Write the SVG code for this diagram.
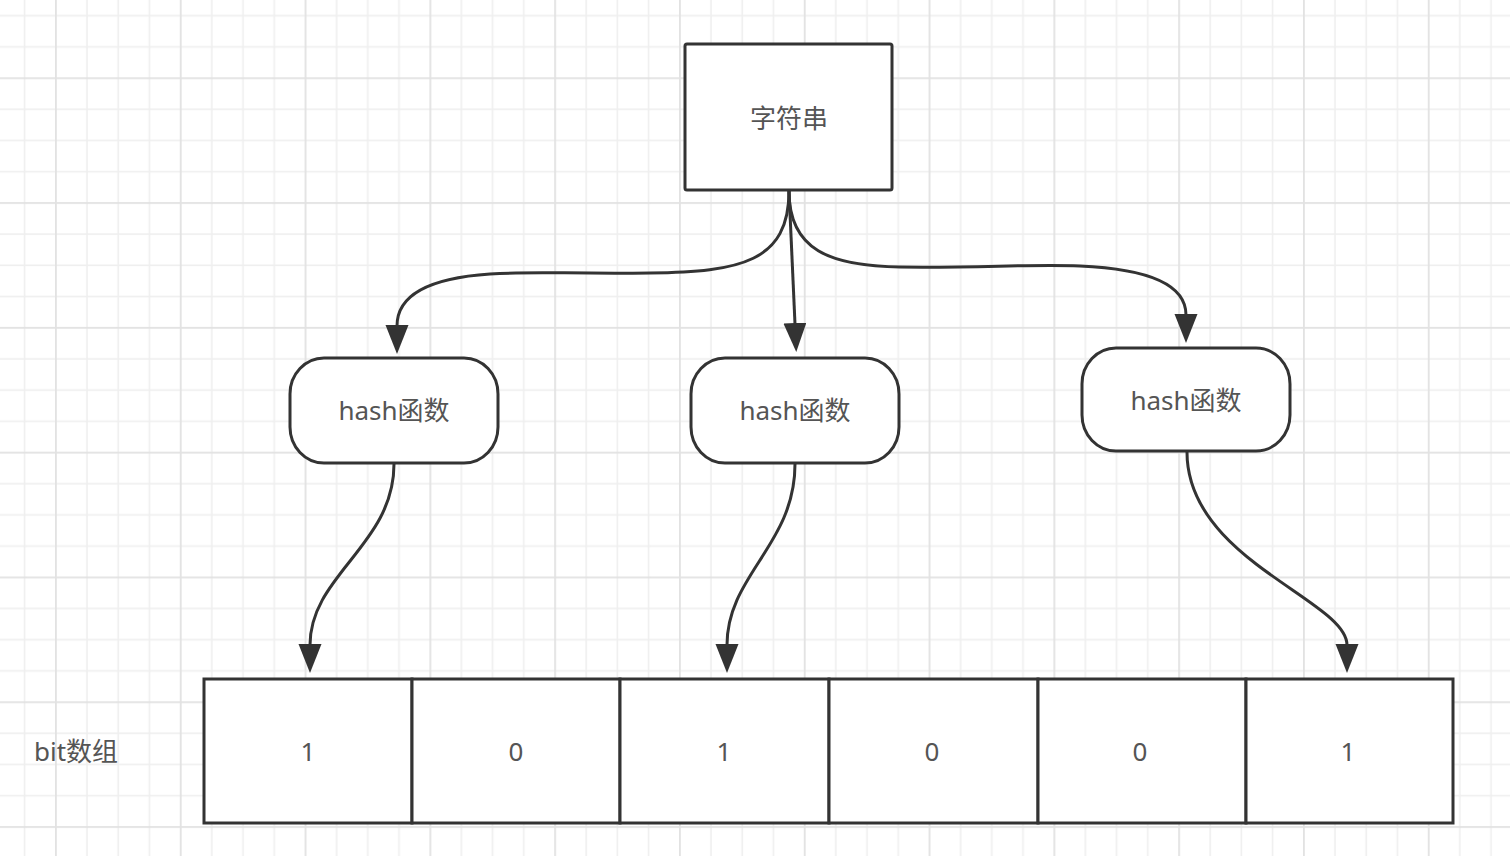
<svg xmlns="http://www.w3.org/2000/svg" width="1510" height="856" viewBox="0 0 1510 856">
  <defs>
    <pattern id="grid" x="55" y="77.3" width="124.8" height="124.8" patternUnits="userSpaceOnUse">
      <rect x="0" y="0" width="124.8" height="124.8" fill="#ffffff"/>
      <g fill="#efefef">
        <rect x="31.2" y="0" width="1.6" height="124.8"/>
        <rect x="62.4" y="0" width="1.6" height="124.8"/>
        <rect x="93.6" y="0" width="1.6" height="124.8"/>
        <rect x="0" y="31.2" width="124.8" height="1.6"/>
        <rect x="0" y="62.4" width="124.8" height="1.6"/>
        <rect x="0" y="93.6" width="124.8" height="1.6"/>
      </g>
      <g fill="#e2e2e2">
        <rect x="0" y="0" width="1.8" height="124.8"/>
        <rect x="0" y="0" width="124.8" height="1.8"/>
      </g>
    </pattern>
    <marker id="arrow" markerUnits="userSpaceOnUse" markerWidth="32" markerHeight="24" refX="1" refY="11.5" orient="auto" viewBox="0 0 32 24">
      <path d="M0,0 L29,11.5 L0,23 Z" fill="#333333"/>
    </marker>
  </defs>
  <style>
    .box { fill: #ffffff; stroke: #333333; stroke-width: 3; }
    .edge { fill: none; stroke: #333333; stroke-width: 3; marker-end: url(#arrow); }
    .lbl { font-family: "Noto Sans", "Noto Sans CJK SC", sans-serif; font-size: 26px; fill: #555555; text-anchor: middle; dominant-baseline: central; }
  </style>

  <rect x="0" y="0" width="1510" height="856" fill="url(#grid)"/>

  <g id="connectors">
    <path class="edge" d="M789,191 C789,262 740,272 650,273 C560,274 540,271 490,274 C430,278 397,295 397,326"/>
    <path class="edge" d="M789,191 L795,324"/>
    <path class="edge" d="M789,191 C789,250 830,266 900,267 C980,268 1030,264 1080,266 C1150,269 1186,285 1186,315"/>
    <path class="edge" d="M394,464 C394,545 310,575 310,645"/>
    <path class="edge" d="M795,464 C795,545 727,575 727,645"/>
    <path class="edge" d="M1187,452 C1187,560 1347,600 1347,645"/>
  </g>

  <g id="string">
    <rect class="box" x="685" y="44" width="207" height="146" rx="2"/>
    <text class="lbl" x="789" y="118">字符串</text>
  </g>

  <g id="hash1">
    <rect class="box" x="290" y="358" width="208" height="105" rx="34" ry="36"/>
    <text class="lbl" x="394" y="410">hash函数</text>
  </g>
  <g id="hash2">
    <rect class="box" x="691" y="358" width="208" height="105" rx="34" ry="36"/>
    <text class="lbl" x="795" y="410">hash函数</text>
  </g>
  <g id="hash3">
    <rect class="box" x="1082" y="348" width="208" height="103" rx="34" ry="36"/>
    <text class="lbl" x="1186" y="400">hash函数</text>
  </g>

  <g id="bitlabel">
    <text class="lbl" x="76" y="751">bit数组</text>
  </g>

  <g id="bitarray">
    <g id="bit0">
      <rect class="box" x="204" y="679" width="208" height="144"/>
      <text class="lbl" x="308" y="751">1</text>
    </g>
    <g id="bit1">
      <rect class="box" x="412" y="679" width="208" height="144"/>
      <text class="lbl" x="516" y="751">0</text>
    </g>
    <g id="bit2">
      <rect class="box" x="620" y="679" width="209" height="144"/>
      <text class="lbl" x="724" y="751">1</text>
    </g>
    <g id="bit3">
      <rect class="box" x="829" y="679" width="209" height="144"/>
      <text class="lbl" x="932" y="751">0</text>
    </g>
    <g id="bit4">
      <rect class="box" x="1038" y="679" width="208" height="144"/>
      <text class="lbl" x="1140" y="751">0</text>
    </g>
    <g id="bit5">
      <rect class="box" x="1246" y="679" width="207" height="144"/>
      <text class="lbl" x="1348" y="751">1</text>
    </g>
  </g>
</svg>
